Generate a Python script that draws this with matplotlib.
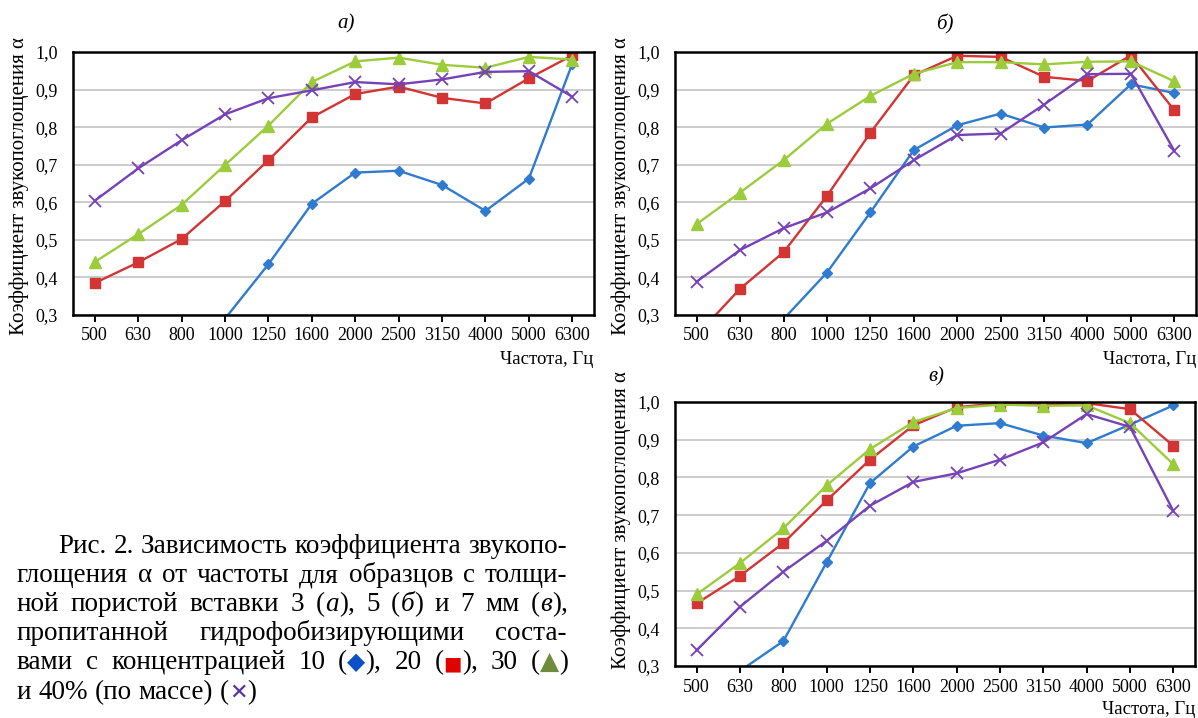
import numpy as np
import matplotlib
matplotlib.use("Agg")
import matplotlib.pyplot as plt

W, H = 1198, 718

freqs = ["500", "630", "800", "1000", "1250", "1600", "2000", "2500", "3150", "4000", "5000", "6300"]
yticks = [0.3, 0.4, 0.5, 0.6, 0.7, 0.8, 0.9, 1.0]
ytick_labels = ["0,3", "0,4", "0,5", "0,6", "0,7", "0,8", "0,9", "1,0"]
nan = np.nan

# panel а) – 3 mm
a_10 = [nan, nan, nan, 0.29, 0.435, 0.596, 0.679, 0.684, 0.646, 0.577, 0.663, 0.969]
a_20 = [0.385, 0.440, 0.502, 0.603, 0.712, 0.826, 0.888, 0.908, 0.878, 0.863, 0.930, 0.991]
a_30 = [0.441, 0.515, 0.593, 0.699, 0.804, 0.920, 0.975, 0.985, 0.966, 0.958, 0.987, 0.980]
a_40 = [0.604, 0.690, 0.765, 0.834, 0.877, 0.898, 0.920, 0.914, 0.927, 0.947, 0.949, 0.881]
# panel б) – 5 mm
b_10 = [nan, nan, 0.289, 0.413, 0.573, 0.739, 0.805, 0.836, 0.799, 0.807, 0.914, 0.891]
b_20 = [0.246, 0.370, 0.467, 0.617, 0.785, 0.938, 0.990, 0.987, 0.934, 0.923, 0.991, 0.845]
b_30 = [0.542, 0.626, 0.712, 0.809, 0.883, 0.942, 0.973, 0.973, 0.967, 0.974, 0.975, 0.922]
b_40 = [0.389, 0.473, 0.531, 0.573, 0.637, 0.712, 0.779, 0.783, 0.860, 0.941, 0.942, 0.737]
# panel в) – 7 mm
c_10 = [nan, 0.287, 0.366, 0.575, 0.785, 0.882, 0.937, 0.944, 0.911, 0.891, 0.940, 0.991]
c_20 = [0.466, 0.539, 0.626, 0.739, 0.847, 0.938, 0.986, 0.997, 0.994, 0.997, 0.981, 0.884]
c_30 = [0.490, 0.573, 0.665, 0.779, 0.875, 0.947, 0.984, 0.993, 0.990, 0.991, 0.944, 0.835]
c_40 = [0.342, 0.457, 0.550, 0.632, 0.725, 0.788, 0.811, 0.847, 0.893, 0.968, 0.934, 0.711]

titles = ["а)", "б)", "в)"]
ylabel = "Коэффициент звукопоглощения α"
xlabel = "Частота, Гц"

C_BLUE = "#2f7bd0"
C_RED = "#d33434"
C_GREEN = "#9ccc3c"
C_PURPLE = "#7642b8"

SERIF = ["Liberation Serif", "DejaVu Serif"]
plt.rcParams["font.family"] = SERIF

fig = plt.figure(figsize=(W / 100, H / 100), dpi=100)


def fx(x):
    return x / W


def fy(y):
    return 1 - y / H


def make_axes(l, r, t, b):
    return fig.add_axes([fx(l), fy(b), (r - l) / W, (b - t) / H])


panels = [
    (make_axes(73, 594, 52, 315), [a_10, a_20, a_30, a_40]),
    (make_axes(675, 1196, 52, 315), [b_10, b_20, b_30, b_40]),
    (make_axes(675, 1195, 402, 666), [c_10, c_20, c_30, c_40]),
]

styles = [
    dict(color=C_BLUE, marker="D", markersize=5.5),
    dict(color=C_RED, marker="s", markersize=7.5),
    dict(color=C_GREEN, marker="^", markersize=8),
    dict(color=C_PURPLE, marker="x", markersize=8, markeredgewidth=1.3),
]

x = np.arange(len(freqs))
for ax, series in panels:
    for vals, st in zip(series, styles):
        ax.plot(x, vals, lw=1.7, zorder=3, **st)
    ax.set_xlim(-0.5, len(freqs) - 0.5)
    ax.set_ylim(0.3, 1.0)
    ax.set_yticks(yticks)
    ax.set_yticklabels(ytick_labels, fontsize=13)
    ax.set_xticks(x)
    ax.set_xticklabels(freqs, fontsize=13)
    ax.tick_params(axis="y", length=0, pad=11)
    ax.tick_params(axis="x", direction="out", length=5, width=1.4, pad=4)
    ax.grid(axis="y", color="#cccccc", lw=1.4, zorder=0)
    for s in ax.spines.values():
        s.set_linewidth(1.8)
        s.set_color("black")
        s.set_zorder(4)

# titles, axis labels
fig.text(fx(346), fy(24), titles[0], fontsize=15, style="italic", ha="center", va="center")
fig.text(fx(945), fy(24), titles[1], fontsize=15, style="italic", ha="center", va="center")
fig.text(fx(936), fy(377), titles[2], fontsize=15, style="italic", ha="center", va="center")

for (xc, yc) in [(19, 186), (621, 186), (621, 520)]:
    fig.text(fx(xc), fy(yc), ylabel, fontsize=15, rotation=90, ha="center", va="center")
for (xr, yc) in [(593, 359), (1196, 359), (1195, 709)]:
    fig.text(fx(xr), fy(yc), xlabel, fontsize=13.5, ha="right", va="center")

# caption (justified)
CAP = 19.5
CAPFAM = ["Liberation Serif", "DejaVu Sans"]


def seg(t, **kw):
    d = dict(fontsize=CAP, family=CAPFAM, color="black")
    d.update(kw)
    return (t, d)


def sym(t, color, size):
    return (t, dict(fontsize=size, family=["DejaVu Sans"], color=color))


cap_lines = [
    ([[seg("Рис.")], [seg("2.")], [seg("Зависимость")], [seg("коэффициента")], [seg("звукопо-")]], 58, 567, 553, True),
    ([[seg("глощения")], [seg("α")], [seg("от")], [seg("частоты")], [seg("для")], [seg("образцов")], [seg("с")], [seg("толщи-")]], 17, 567, 582, True),
    ([[seg("ной")], [seg("пористой")], [seg("вставки")], [seg("3")], [seg("("), seg("а", style="italic"), seg("),")],
      [seg("5")], [seg("("), seg("б", style="italic"), seg(")")], [seg("и")], [seg("7")], [seg("мм")],
      [seg("("), seg("в", style="italic"), seg("),")]], 17, 568, 611, True),
    ([[seg("пропитанной")], [seg("гидрофобизирующими")], [seg("соста-")]], 17, 567, 640, True),
    ([[seg("вами")], [seg("с")], [seg("концентрацией")], [seg("10")], [seg("("), sym("◆", "#0a50c8", 17), seg("),")],
      [seg("20")], [seg("("), sym("■", "#e00000", 14), seg("),")], [seg("30")],
      [seg("("), sym("▲", "#6e8c3c", 18), seg(")")]], 17, 568, 669, True),
    ([[seg("и")], [seg("40%")], [seg("(по")], [seg("массе)")], [seg("("), sym("✕", "#5530a8", 16), seg(")")]], 17, 568, 699, False),
]

renderer = fig.canvas.get_renderer()
for words, x0, x1, yb, just in cap_lines:
    objs = []
    widths = []
    for w in words:
        wl = []
        ww = 0
        for t, kw in w:
            tx = fig.text(0, fy(yb), t, ha="left", va="baseline", **kw)
            bb = tx.get_window_extent(renderer)
            wl.append((tx, bb.width))
            ww += bb.width
        objs.append(wl)
        widths.append(ww)
    sp = fig.text(0, 0, "a a", fontsize=CAP, family=CAPFAM)
    spw = sp.get_window_extent(renderer).width
    sp2 = fig.text(0, 0, "aa", fontsize=CAP, family=CAPFAM)
    spw -= sp2.get_window_extent(renderer).width
    sp.remove()
    sp2.remove()
    if just and len(words) > 1:
        gap = (x1 - x0 - sum(widths)) / (len(words) - 1)
    else:
        gap = spw
    cx = x0
    for wl, ww in zip(objs, widths):
        px = cx
        for tx, tw in wl:
            tx.set_x(fx(px))
            px += tw
        cx += ww + gap

fig.savefig("out.png", dpi=100)
